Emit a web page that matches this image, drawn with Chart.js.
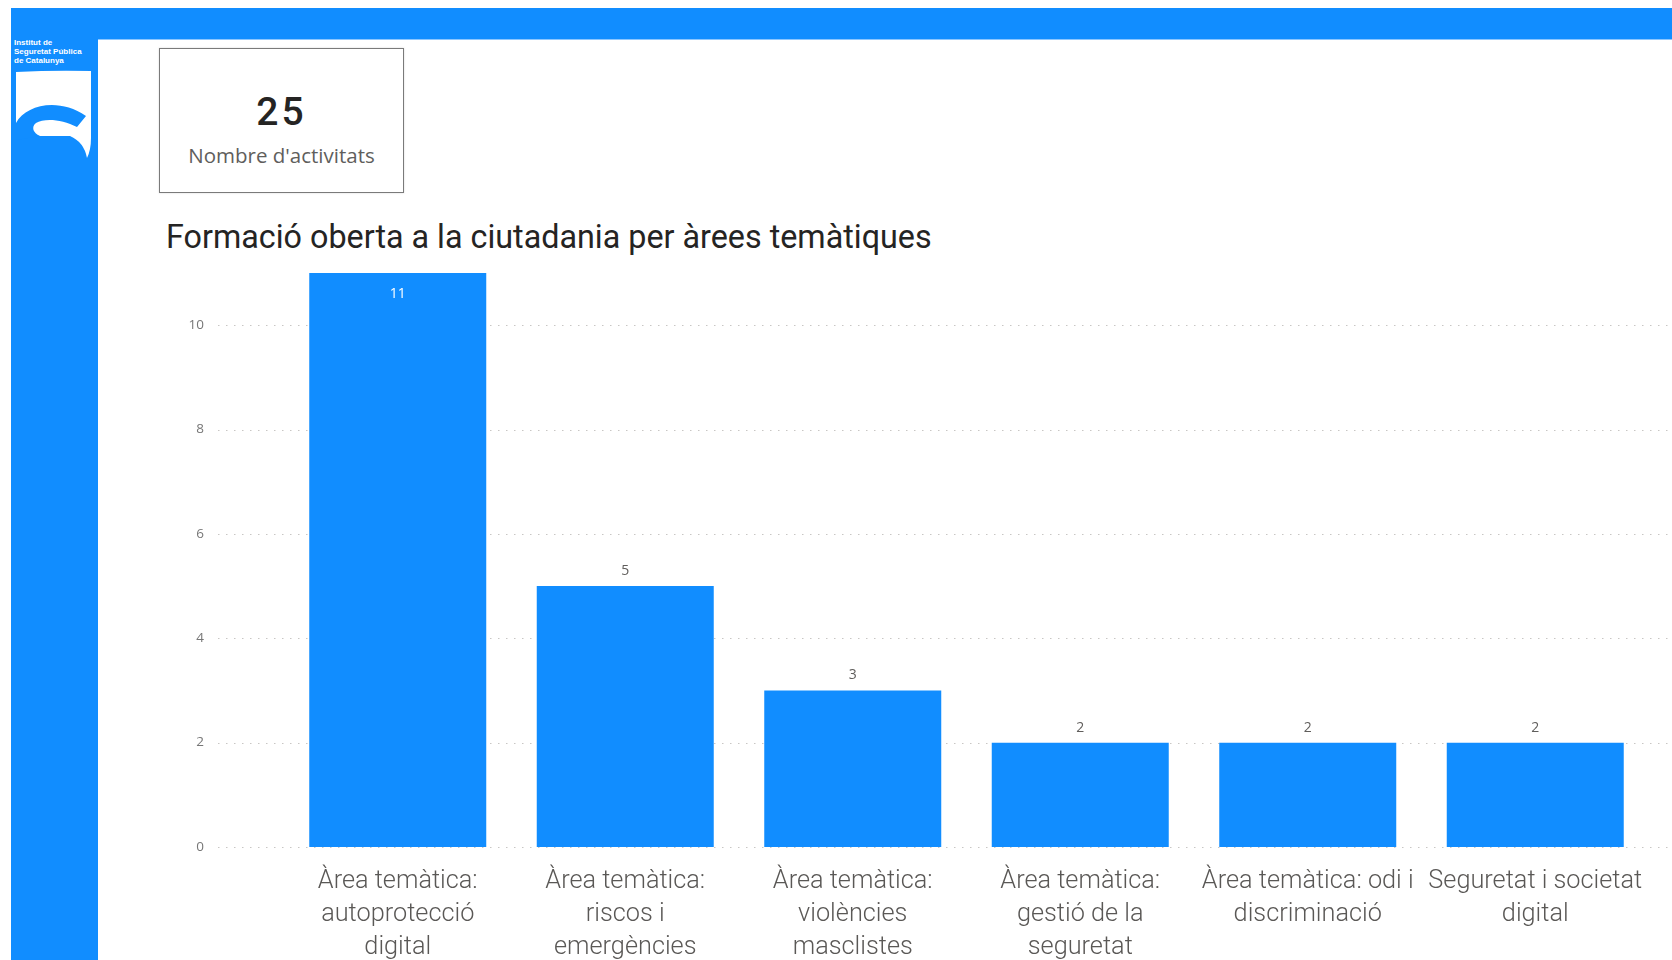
<!DOCTYPE html>
<html>
<head>
<meta charset="utf-8">
<script src="https://cdn.jsdelivr.net/npm/chart.js@4.4.1/dist/chart.umd.min.js"></script>
<style>
  html, body { margin:0; padding:0; background:#fff; width:1672px; height:960px; overflow:hidden; }
  .topbar { position:absolute; left:11px; top:8px; width:1661px; height:31px; background:#118DFF; }
  .topline { position:absolute; left:11px; top:39px; width:1661px; height:1px; background:#8cc6ff; }
  .side { position:absolute; left:11px; top:39px; width:87px; height:921px; background:#118DFF; }
  .logotext { position:absolute; left:14px; top:38px; color:#fff; font-family:"Liberation Sans", Arial, sans-serif; font-weight:bold; font-size:8px; line-height:9px; }
  .kpi { position:absolute; left:159px; top:48px; width:243px; height:143px; border:1.5px solid #7a7a7a; box-shadow:0 0 2px rgba(0,0,0,0.15); }
  .kpi .num { position:absolute; left:0; width:100%; top:43px; text-align:center; font-family:Roboto, sans-serif; font-weight:500; font-size:39px; color:#252423; letter-spacing:3px; line-height:40px; }
  .kpi .lbl { position:absolute; left:0; width:100%; top:93px; text-align:center; font-family:"Open Sans", sans-serif; font-size:20.5px; color:#605e5c; line-height:26px; }
  .title { position:absolute; left:166px; top:218px; font-family:Roboto, sans-serif; font-size:32.3px; color:#252423; white-space:nowrap; line-height:38px; }
  #wrap { position:absolute; left:100px; top:250px; width:1572px; height:710px; }
</style>
</head>
<body>
<div class="topbar"></div>
<div class="topline"></div>
<div class="side"></div>
<div class="logotext">Institut de<br>Seguretat Pública<br>de Catalunya</div>
<svg style="position:absolute;left:0;top:0" width="100" height="170">
  <path d="M16,72 Q54,70 91,71 L91,138 Q91,150 87,158 Q84,142 70,136 L40,136 Q26,135 16,128 Z" fill="#fff"/>
  <path d="M16,123 C26,105 58,97 86,116 L77,127 C62,119 44,118 36,123 C31,127 33,133 40,136 L16,140 Z" fill="#118DFF"/>
</svg>
<div class="kpi">
  <div class="num">25</div>
  <div class="lbl">Nombre d'activitats</div>
</div>
<div class="title">Formació oberta a la ciutadania per àrees temàtiques</div>
<div id="wrap"><canvas id="c" width="1572" height="710"></canvas></div>
<script>
const categories = [
  ["Àrea temàtica:", "autoprotecció", "digital"],
  ["Àrea temàtica:", "riscos i", "emergències"],
  ["Àrea temàtica:", "violències", "masclistes"],
  ["Àrea temàtica:", "gestió de la", "seguretat"],
  ["Àrea temàtica: odi i", "discriminació"],
  ["Seguretat i societat", "digital"]
];
const activitats = [11, 5, 3, 2, 2, 2];
const yTicks = [0, 2, 4, 6, 8, 10];
const yMax = 11;

const BLUE = '#118DFF';
const GREY = '#605e5c';

const gridPlugin = {
  id: 'dottedGrid',
  beforeDatasetsDraw(chart) {
    const ctx = chart.ctx, y = chart.scales.y;
    ctx.save();
    ctx.strokeStyle = '#c8c6c4';
    ctx.lineWidth = 1;
    ctx.setLineDash([1.5, 6.5]);
    yTicks.forEach(v => {
      const py = Math.round(y.getPixelForValue(v)) + 0.5;
      ctx.beginPath();
      ctx.moveTo(118, py);
      ctx.lineTo(chart.width, py);
      ctx.stroke();
    });
    ctx.restore();
  }
};

const labelPlugin = {
  id: 'valueLabels',
  afterDatasetsDraw(chart) {
    const ctx = chart.ctx;
    const meta = chart.getDatasetMeta(0);
    ctx.save();
    ctx.font = '14px "Open Sans", sans-serif';
    ctx.textAlign = 'center';
    ctx.textBaseline = 'middle';
    meta.data.forEach((bar, i) => {
      const v = activitats[i];
      if (bar.y - 25 < chart.chartArea.top) {
        ctx.fillStyle = '#ffffff';
        ctx.fillText(String(v), bar.x, bar.y + 21);
      } else {
        ctx.fillStyle = GREY;
        ctx.fillText(String(v), bar.x, bar.y - 15);
      }
    });
    ctx.restore();
  }
};

new Chart(document.getElementById('c'), {
  type: 'bar',
  data: {
    labels: categories,
    datasets: [{
      data: activitats,
      backgroundColor: BLUE,
      borderWidth: 0,
      categoryPercentage: 1,
      barPercentage: 0.778
    }]
  },
  options: {
    responsive: false,
    animation: false,
    events: [],
    layout: { autoPadding: false, padding: { left: 0, right: 23, top: 23, bottom: 0 } },
    plugins: { legend: { display: false }, tooltip: { enabled: false } },
    scales: {
      x: {
        grid: { display: false, drawTicks: false },
        border: { display: false },
        ticks: {
          color: '#5a5856',
          font: { family: 'Roboto, sans-serif', size: 25.3, weight: 300, lineHeight: '33px' },
          padding: 18,
          maxRotation: 0,
          autoSkip: false
        },
        afterFit(s) { s.height = 113; s.paddingLeft = 0; s.paddingRight = 0; }
      },
      y: {
        min: 0,
        max: yMax,
        grid: { display: false, drawTicks: false },
        border: { display: false },
        afterBuildTicks(s) { s.ticks = yTicks.map(v => ({ value: v })); },
        ticks: {
          color: '#777',
          font: { family: '"Open Sans", sans-serif', size: 13.5 },
          padding: 80
        },
        afterFit(s) { s.width = 184; s.paddingTop = 0; s.paddingBottom = 0; }
      }
    }
  },
  plugins: [gridPlugin, labelPlugin]
});
</script>
</body>
</html>
